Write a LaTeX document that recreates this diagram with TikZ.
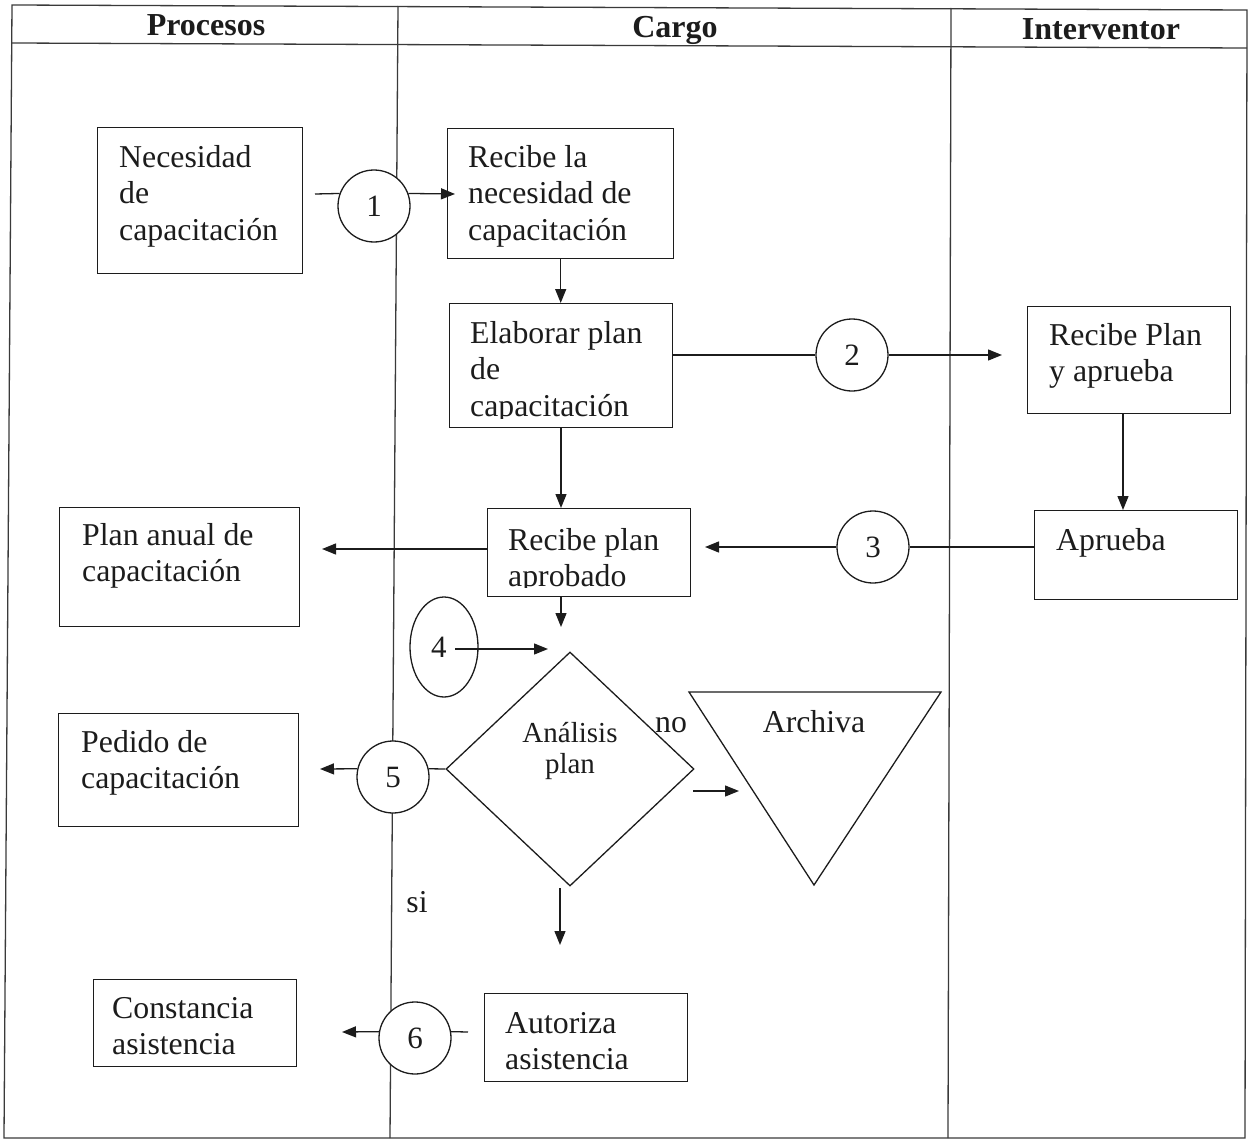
\documentclass[tikz,border=0pt]{standalone}
\usepackage{fontspec}
\setmainfont{Liberation Serif}
\usetikzlibrary{arrows.meta,shapes.geometric}
\definecolor{ink}{HTML}{1C1C1C}
\definecolor{rule}{HTML}{3A3A3A}
% strut that fixes the height of the first line of a text block
\newcommand\firstline{\rule{0pt}{25pt}}
\begin{document}
\begin{tikzpicture}[x=1pt,y=-1pt,
  frame/.style={draw=rule, line width=1.3pt},
  box/.style={draw=ink, line width=1.4pt, rectangle, inner sep=0pt, anchor=north west},
  txt/.style={inner sep=0pt, anchor=north west, align=left, text=ink,
              font=\fontsize{31.8}{36.5}\selectfont},
  head/.style={inner sep=0pt, anchor=base, text=ink,
               font=\bfseries\fontsize{32}{36}\selectfont},
  num/.style={circle, draw=ink, fill=white, line width=1.3pt, minimum size=72pt,
              inner sep=0pt, text=ink, font=\fontsize{31}{33}\selectfont},
  link/.style={draw=ink, line width=1.3pt},
  flow/.style={link, -{Triangle[length=14pt,width=11pt]}},
]
\useasboundingbox (0,0) rectangle (1251,1140);

% swimlane table
\draw[frame] (12,5) -- (1247,10) -- (1245,1138) -- (4,1138) -- cycle;
\draw[frame] (12,43) -- (1247,48);
\draw[frame] (398,6) -- (390,1138);
\draw[frame] (951,8) -- (948,1138);
\node[head] (hproc) at (206,36) {Procesos};
\node[head] (hcargo) at (675,38) {Cargo};
\node[head] (hint) at (1101,40) {Interventor};

% boxes
\node[box, minimum width=205, minimum height=146] (b1) at (97,127) {};
\node[box, minimum width=226, minimum height=130] (b2) at (447,128) {};
\node[box, minimum width=223, minimum height=124] (b3) at (449,303) {};
\node[box, minimum width=203, minimum height=107] (b4) at (1027,306) {};
\node[box, minimum width=203, minimum height=89]  (b5) at (1034,510) {};
\node[box, minimum width=203, minimum height=88]  (b6) at (487,508) {};
\node[box, minimum width=240, minimum height=119] (b7) at (59,507) {};
\node[box, minimum width=240, minimum height=113] (b8) at (58,713) {};
\node[box, minimum width=203, minimum height=87]  (b9) at (93,979) {};
\node[box, minimum width=203, minimum height=88]  (b10) at (484,993) {};

% box texts
\node[txt] (t1) at (119,142) {\firstline Necesidad\\de\\capacitación};
\node[txt] (t2) at (468,142) {\firstline Recibe la\\necesidad de\\capacitación};
\begin{scope}
  \clip (449,303) rectangle (672,418);
  \node[txt] (t3) at (470,318) {\firstline Elaborar plan\\de\\capacitación};
\end{scope}
\node[txt] (t4) at (1049,320) {\firstline Recibe Plan\\y aprueba};
\node[txt] (t5) at (1056,525) {\firstline Aprueba};
\begin{scope}
  \clip (487,508) rectangle (690,587);
  \node[txt] (t6) at (508,525) {\firstline Recibe plan\\aprobado};
\end{scope}
\node[txt] (t7) at (82,520) {\firstline Plan anual de\\capacitación};
\node[txt] (t8) at (81,727) {\firstline Pedido de\\capacitación};
\node[txt] (t9) at (112,993) {\firstline Constancia\\asistencia};
\node[txt] (t10) at (505,1008) {\firstline Autoriza\\asistencia};

% decision and archive
\node[diamond, draw=ink, line width=1.3pt, minimum width=248, minimum height=234,
      inner sep=0pt] (d) at (570,769) {};
\node[txt, anchor=north, align=center, font=\fontsize{29}{31}\selectfont]
      (td) at (570,717) {\firstline Análisis\\plan};
\draw[link] (689,692) -- (941,692) -- (814,885) -- cycle;
\node[txt, anchor=base] (tarch) at (814,732) {Archiva};
\node[txt, anchor=base] (tno) at (671,732) {no};
\node[txt, anchor=base] (tsi) at (417,912) {si};

% numbered connectors
\node[num] (c1) at (374,206) {1};
\node[num] (c2) at (852,355) {2};
\node[num] (c3) at (873,547) {3};
\node[ellipse, draw=ink, fill=white, line width=1.3pt, minimum width=68, minimum height=100,
      inner sep=0pt, text=ink, font=\fontsize{31}{33}\selectfont] (c4) at (444,647) {4\,\,};
\node[num] (c5) at (393,777) {5};
\node[num] (c6) at (415,1038) {6};

% free ends of connectors
\coordinate (a1s) at (315,194);
\coordinate (a1e) at (455,194);
\coordinate (a2e) at (1002,355);
\coordinate (a3e) at (705,547);
\coordinate (a45) at (1123,0);
\coordinate (a6e) at (561,627);
\coordinate (a7e) at (322,549);
\coordinate (a4s) at (455,649);
\coordinate (a4e) at (548,649);
\coordinate (a5e) at (320,769);
\coordinate (ana) at (693,791);
\coordinate (anb) at (739,791);
\coordinate (asa) at (560,888);
\coordinate (asb) at (560,945);
\coordinate (a6l) at (342,1032);
\coordinate (a6r) at (468,1032);

% connectors
\draw[link] (a1s) -- (c1.160);
\draw[flow] (c1.20) -- (a1e);
\draw[flow] (b2.south) -- (b2.south |- b3.north);
\draw[link] (b3.east |- c2) -- (c2);
\draw[flow] (c2) -- (a2e);
\draw[flow] (b4.south -| a45) -- (b5.north -| a45);
\draw[link] (b5.west |- c3) -- (c3);
\draw[flow] (c3) -- (a3e);
\draw[flow] (b3.south -| a6e) -- (b6.north -| a6e);
\draw[flow] (b6.south -| a6e) -- (a6e);
\draw[flow] (b6.west |- a7e) -- (a7e);
\draw[flow] (a4s) -- (a4e);
\draw[link] (d.west) -- (c5.13);
\draw[flow] (c5.167) -- (a5e);
\draw[flow] (ana) -- (anb);
\draw[flow] (asa) -- (asb);
\draw[flow] (c6.170) -- (a6l);
\draw[link] (c6.10) -- (a6r);
\end{tikzpicture}
\end{document}
